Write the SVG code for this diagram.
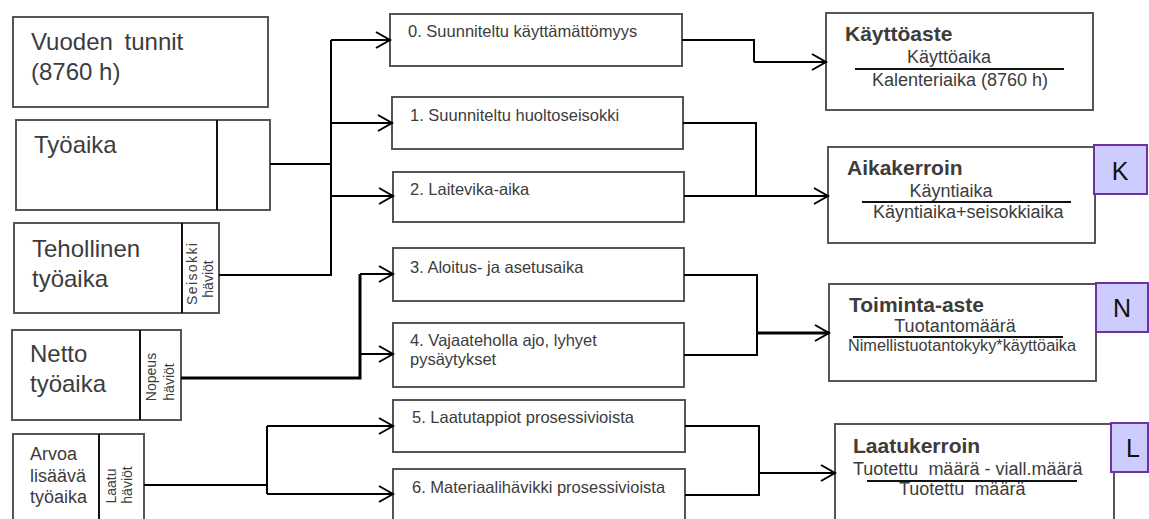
<svg xmlns="http://www.w3.org/2000/svg" width="1149" height="519" viewBox="0 0 1149 519">
  <style>
    .box { fill: #ffffff; stroke: #555555; stroke-width: 2; }
    .div { stroke: #111111; stroke-width: 2; }
    .tag { fill: #ccccff; stroke: #7030a0; stroke-width: 2; }
    .big { font-family: "Liberation Sans", Arial, sans-serif; font-size: 24px; fill: #3c3c3c; }
    .mid { font-family: "Liberation Sans", Arial, sans-serif; font-size: 18px; fill: #3c3c3c; }
    .side { font-family: "Liberation Sans", Arial, sans-serif; font-size: 14px; fill: #3c3c3c; }
    .step { font-family: "Liberation Sans", Arial, sans-serif; font-size: 16.5px; fill: #3c3c3c; }
    .title { font-family: "Liberation Sans", Arial, sans-serif; font-size: 21px; font-weight: bold; fill: #3c3c3c; }
    .frac { font-family: "Liberation Sans", Arial, sans-serif; font-size: 18px; fill: #3c3c3c; }
    .small { font-family: "Liberation Sans", Arial, sans-serif; font-size: 16px; fill: #3c3c3c; }
    .letter { font-family: "Liberation Sans", Arial, sans-serif; font-size: 25px; fill: #111111; text-anchor: middle; }
    .bar { stroke: #111111; stroke-width: 2; }
    .wire { fill: none; stroke: #000000; stroke-width: 2; }
    .wire.heavy { stroke-width: 3; }
    .arrow { fill: none; stroke: #000000; stroke-width: 2; marker-end: url(#chevron); }
    .arrow.heavy { stroke-width: 3; }
  </style>
  <defs>
    <marker id="chevron" markerUnits="userSpaceOnUse" markerWidth="18" markerHeight="20" refX="15" refY="9" orient="auto">
      <path d="M1,1 L15,9 L1,17" fill="none" stroke="#000000" stroke-width="2"/>
    </marker>
  </defs>

  <!-- time categories (left column) -->
  <g id="vuoden-tunnit">
    <rect class="box" x="13" y="17" width="255" height="90"/>
    <text class="big" x="31" y="50" word-spacing="5">Vuoden tunnit</text>
    <text class="big" x="31" y="80">(8760 h)</text>
  </g>
  <g id="tyoaika">
    <rect class="box" x="16" y="120" width="254" height="90"/>
    <line class="div" x1="217" y1="120" x2="217" y2="210"/>
    <text class="big" x="34" y="153">Työaika</text>
  </g>
  <g id="tehollinen-tyoaika">
    <rect class="box" x="14" y="223" width="205" height="90"/>
    <line class="div" x1="182" y1="223" x2="182" y2="313"/>
    <text class="big" x="32" y="257">Tehollinen</text>
    <text class="big" x="32" y="287">työaika</text>
    <text class="side" transform="translate(197,274) rotate(-90)" text-anchor="middle" textLength="62" lengthAdjust="spacing">Seisokki</text>
    <text class="side" transform="translate(213,279) rotate(-90)" text-anchor="middle">häviöt</text>
  </g>
  <g id="netto-tyoaika">
    <rect class="box" x="12" y="330" width="169" height="90"/>
    <line class="div" x1="140" y1="330" x2="140" y2="420"/>
    <text class="big" x="30" y="362">Netto</text>
    <text class="big" x="30" y="392">työaika</text>
    <text class="side" transform="translate(156,377) rotate(-90)" text-anchor="middle">Nopeus</text>
    <text class="side" transform="translate(174,382) rotate(-90)" text-anchor="middle">häviöt</text>
  </g>
  <g id="arvoa-lisaava-tyoaika">
    <rect class="box" x="13" y="434" width="131" height="100"/>
    <line class="div" x1="99" y1="434" x2="99" y2="534"/>
    <text class="mid" x="30" y="460">Arvoa</text>
    <text class="mid" x="30" y="482">lisäävä</text>
    <text class="mid" x="30" y="503">työaika</text>
    <text class="side" transform="translate(116,486) rotate(-90)" text-anchor="middle">Laatu</text>
    <text class="side" transform="translate(132,485) rotate(-90)" text-anchor="middle">häviöt</text>
  </g>

  <!-- loss categories (middle column) -->
  <g id="step-0">
    <rect class="box" x="390" y="14" width="292" height="52"/>
    <text class="step" x="408" y="37">0. Suunniteltu käyttämättömyys</text>
  </g>
  <g id="step-1">
    <rect class="box" x="392" y="97" width="291" height="52"/>
    <text class="step" x="410" y="121">1. Suunniteltu huoltoseisokki</text>
  </g>
  <g id="step-2">
    <rect class="box" x="393" y="172" width="291" height="50"/>
    <text class="step" x="410" y="195">2. Laitevika-aika</text>
  </g>
  <g id="step-3">
    <rect class="box" x="393" y="248" width="291" height="53"/>
    <text class="step" x="410" y="273">3. Aloitus- ja asetusaika</text>
  </g>
  <g id="step-4">
    <rect class="box" x="393" y="323" width="291" height="64"/>
    <text class="step" x="410" y="346">4. Vajaateholla ajo, lyhyet</text>
    <text class="step" x="410" y="365">pysäytykset</text>
  </g>
  <g id="step-5">
    <rect class="box" x="393" y="400" width="292" height="52"/>
    <text class="step" x="412" y="423">5. Laatutappiot prosessivioista</text>
  </g>
  <g id="step-6">
    <rect class="box" x="393" y="469" width="292" height="60"/>
    <text class="step" x="412" y="493">6. Materiaalihävikki prosessivioista</text>
  </g>

  <!-- key figures (right column) -->
  <g id="kayttoaste">
    <rect class="box" x="826" y="13" width="267" height="97"/>
    <text class="title" x="845" y="41">Käyttöaste</text>
    <text class="frac" x="949" y="63" text-anchor="middle">Käyttöaika</text>
    <line class="bar" x1="855" y1="69" x2="1064" y2="69"/>
    <text class="frac" x="872" y="86">Kalenteriaika (8760 h)</text>
  </g>
  <g id="aikakerroin">
    <rect class="box" x="828" y="147" width="267" height="96"/>
    <text class="title" x="847" y="175">Aikakerroin</text>
    <text class="frac" x="951" y="197" text-anchor="middle">Käyntiaika</text>
    <line class="bar" x1="862" y1="202" x2="1071" y2="202"/>
    <text class="frac" x="873" y="218">Käyntiaika+seisokkiaika</text>
    <rect class="tag" x="1094" y="145" width="53" height="49"/>
    <text class="letter" x="1120" y="180">K</text>
  </g>
  <g id="toiminta-aste">
    <rect class="box" x="829" y="284" width="267" height="97"/>
    <text class="title" x="849" y="312">Toiminta-aste</text>
    <text class="frac" x="955" y="332" text-anchor="middle">Tuotantomäärä</text>
    <line class="bar" x1="853" y1="337" x2="1063" y2="337"/>
    <text class="small" x="848" y="351" textLength="228" lengthAdjust="spacingAndGlyphs">Nimellistuotantokyky*käyttöaika</text>
    <rect class="tag" x="1096" y="283" width="52" height="49"/>
    <text class="letter" x="1122" y="317">N</text>
  </g>
  <g id="laatukerroin">
    <rect class="box" x="835" y="424" width="279" height="110"/>
    <text class="title" x="853" y="453">Laatukerroin</text>
    <text class="frac" x="853" y="475" xml:space="preserve">Tuotettu  määrä - viall.määrä</text>
    <line class="bar" x1="867" y1="481" x2="1077" y2="481"/>
    <text class="frac" x="899" y="495" xml:space="preserve">Tuotettu  määrä</text>
    <rect class="tag" x="1111" y="423" width="37" height="49"/>
    <text class="letter" x="1133" y="457">L</text>
  </g>

  <!-- connectors -->
  <g id="connectors">
    <!-- Työaika / Tehollinen työaika -> steps 0-2 -->
    <path class="wire" d="M270,164 H331"/>
    <path class="wire" d="M219,275 H331 V40"/>
    <path class="arrow" d="M331,40 H390"/>
    <path class="arrow" d="M331,123 H392"/>
    <path class="arrow" d="M331,196 H393"/>
    <!-- Netto työaika -> steps 3-4 -->
    <path class="wire heavy" d="M181,378 H360 V274"/>
    <path class="arrow" d="M360,274 H393"/>
    <path class="arrow" d="M360,354 H393"/>
    <!-- Arvoa lisäävä työaika -> steps 5-6 -->
    <path class="wire" d="M144,485 H267"/>
    <path class="wire" d="M267,426 V494"/>
    <path class="arrow" d="M267,426 H393"/>
    <path class="arrow" d="M267,494 H393"/>
    <!-- steps -> key figures -->
    <path class="wire" d="M682,40 H754 V62"/>
    <path class="arrow" d="M754,62 H826"/>
    <path class="wire" d="M683,123 H756 V196 H684"/>
    <path class="arrow" d="M756,196 H828"/>
    <path class="wire" d="M684,275 H757 V355 H684"/>
    <path class="arrow heavy" d="M757,333 H829"/>
    <path class="wire" d="M685,426 H759 V495 H685"/>
    <path class="arrow" d="M759,473 H835"/>
  </g>
</svg>
